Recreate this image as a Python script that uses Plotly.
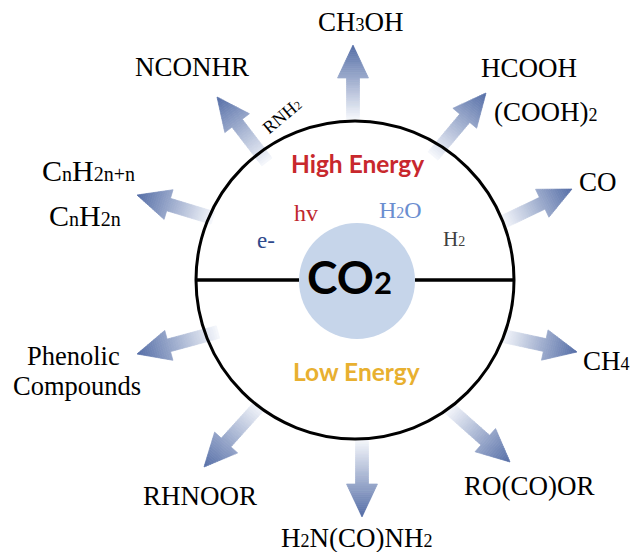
import plotly.graph_objects as go
import numpy as np

W, H = 632, 552

# ---- diagram data ----
circle_center = (355, 280)
circle_radius = 159
core_center = (357, 281)
core_radius = 58

# arrows: tail -> tip (pixel coords of the diagram)
arrow_tails = [(353, 119), (433, 156), (503, 222), (503, 336), (449, 408),
               (362, 440), (260, 405), (218, 332), (213, 218), (267, 162)]
arrow_tips = [(353, 45), (486, 93), (572, 189), (577, 352), (510, 462),
              (362, 517), (204, 467), (137, 354), (137, 195), (217, 97)]


def sub(t, size):
    return '<span style="font-size:%dpx">%s</span>' % (round(size * 0.68), t)


product_texts = [["CH", ("3",), "OH"], ["HCOOH"], ["(COOH)", ("2",)], ["CO"], ["CH", ("4",)],
                 ["RO(CO)OR"], ["H", ("2",), "N(CO)NH", ("2",)], ["RHNOOR"], ["Phenolic"],
                 ["Compounds"], ["C", ("n",), "H", ("2n+n",)], ["C", ("n",), "H", ("2n",)], ["NCONHR"]]
product_x = [361, 529, 546, 598, 606, 529, 357, 200, 73, 77, 88, 85, 192]
product_y = [22, 68, 112, 182, 361, 486, 538, 496, 356, 386, 170, 215, 67]
product_size = [27, 27, 27, 27, 27, 27, 27, 27, 26.5, 26.5, 30, 30, 27]

inner_texts = [["hv"], ["H", ("2",), "O"], ["e-"], ["H", ("2",)]]
inner_x = [306, 400, 266, 454]
inner_y = [213, 210, 240, 239]
inner_colors = ["#c0272d", "#6a8ed0", "#2f4a8c", "#404040"]
inner_sizes = [24, 24, 23, 21]


def build(parts, size):
    out = ""
    for p in parts:
        if isinstance(p, tuple):
            out += sub(p[0], size)
        else:
            out += p
    return out


# ---- figure ----
shapes = []

c_tail = np.array([246, 248, 252])
c_tip = np.array([84, 109, 166])
shaft_hw = 6.5
head_hw = 15.5
head_len = 33
n_strips = 36


def col(t):
    c = c_tail + (c_tip - c_tail) * t
    return "rgb(%d,%d,%d)" % tuple(int(round(v)) for v in c)


for (tx, ty), (px, py) in zip(arrow_tails, arrow_tips):
    p0 = np.array([tx, ty], float)
    p1 = np.array([px, py], float)
    d = p1 - p0
    L = np.linalg.norm(d)
    u = d / L
    nrm = np.array([-u[1], u[0]])
    sb = L - head_len
    bounds = list(np.linspace(0, sb, int(n_strips * sb / L) + 1)) + \
        list(np.linspace(sb, L, int(n_strips * head_len / L) + 2))[1:]

    for i in range(len(bounds) - 1):
        s0, s1 = bounds[i], bounds[i + 1]
        in_head = s0 >= sb - 1e-6
        a = p0 + u * s0
        b = p0 + u * s1
        if in_head:
            w0 = head_hw * (L - s0) / head_len
            w1 = head_hw * (L - s1) / head_len
        else:
            w0 = w1 = shaft_hw
        pts = [a + nrm * w0, b + nrm * w1, b - nrm * w1, a - nrm * w0]
        path = "M " + " L ".join("%.2f %.2f" % (q[0], q[1]) for q in pts) + " Z"
        t = (s0 + s1) / 2 / L
        c = col(t)
        shapes.append(dict(type="path", path=path, xref="x", yref="y",
                           fillcolor=c, line=dict(width=0.7, color=c), layer="below"))

# core circle
cx, cy = core_center
shapes.append(dict(type="circle", xref="x", yref="y",
                   x0=cx - core_radius, x1=cx + core_radius,
                   y0=cy - core_radius, y1=cy + core_radius,
                   fillcolor="#c6d5ea", line=dict(width=0), layer="above"))
# big circle
bx, by = circle_center
shapes.append(dict(type="circle", xref="x", yref="y",
                   x0=bx - circle_radius, x1=bx + circle_radius,
                   y0=by - circle_radius, y1=by + circle_radius,
                   line=dict(color="black", width=3), layer="above"))
# divider lines (either side of the core)
shapes.append(dict(type="line", xref="x", yref="y",
                   x0=bx - circle_radius, x1=cx - core_radius, y0=by, y1=by,
                   line=dict(color="black", width=3.5), layer="above"))
shapes.append(dict(type="line", xref="x", yref="y",
                   x0=cx + core_radius, x1=bx + circle_radius, y0=by, y1=by,
                   line=dict(color="black", width=3.5), layer="above"))

annotations = []
for parts, x, y, s in zip(product_texts, product_x, product_y, product_size):
    annotations.append(dict(text=build(parts, s), x=x, y=y, xref="x", yref="y", showarrow=False,
                            font=dict(family="Liberation Serif", size=s, color="black"),
                            xanchor="center", yanchor="middle"))
for parts, x, y, c, s in zip(inner_texts, inner_x, inner_y, inner_colors, inner_sizes):
    annotations.append(dict(text=build(parts, s), x=x, y=y, xref="x", yref="y", showarrow=False,
                            font=dict(family="Liberation Serif", size=s, color=c),
                            xanchor="center", yanchor="middle"))

annotations.append(dict(text="RNH" + sub("2", 18), x=282, y=116, xref="x", yref="y",
                        showarrow=False, textangle=-40,
                        font=dict(family="Liberation Serif", size=18, color="black")))
annotations.append(dict(text="<b>High Energy</b>", x=357, y=163, xref="x", yref="y",
                        showarrow=False, font=dict(family="Lato", size=24.5, color="#c8282d")))
annotations.append(dict(text="<b>Low Energy</b>", x=356, y=371, xref="x", yref="y",
                        showarrow=False, font=dict(family="Lato", size=24.5, color="#e8b030")))
annotations.append(dict(text="<b>CO" + sub("2", 46) + "</b>", x=349, y=276, xref="x", yref="y",
                        showarrow=False, font=dict(family="Lato", size=46, color="black")))

fig = go.Figure()
fig.add_trace(go.Scatter(x=[0, W], y=[0, H], mode="markers",
                         marker=dict(opacity=0), hoverinfo="skip", showlegend=False))
fig.update_layout(
    width=W, height=H,
    margin=dict(l=0, r=0, t=0, b=0),
    paper_bgcolor="white", plot_bgcolor="white",
    xaxis=dict(range=[0, W], visible=False, fixedrange=True),
    yaxis=dict(range=[H, 0], visible=False, fixedrange=True),
    shapes=shapes, annotations=annotations, showlegend=False,
)
fig.write_html("out.html", config={"staticPlot": True},
               post_script="document.body.style.margin='0';document.body.style.overflow='hidden';")
